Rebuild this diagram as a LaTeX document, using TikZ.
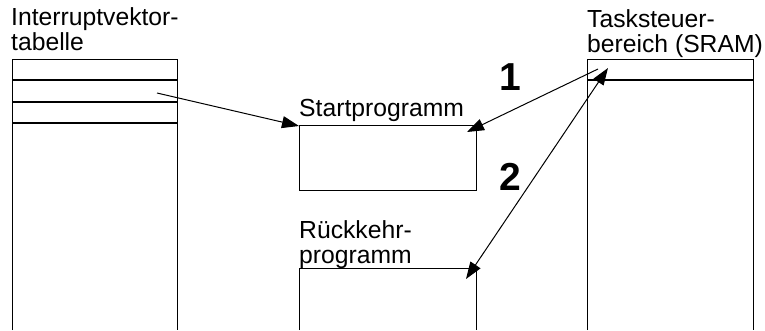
\documentclass[tikz,border=0pt]{standalone}
\usepackage{fontspec}
\setmainfont{Liberation Sans}
\usetikzlibrary{arrows.meta}
\begin{document}
\begin{tikzpicture}[x=1pt,y=-1pt,
  thin line/.style={line width=1pt},
  thick line/.style={line width=2pt},
  label text/.style={font=\fontsize{24.7}{25}\selectfont, anchor=base west, inner sep=0pt, align=left},
  number text/.style={font=\fontsize{39}{40}\selectfont\bfseries, anchor=base west, inner sep=0pt},
  conn/.style={line width=1pt, -{Triangle[length=17pt,width=12pt]}},
  conn2/.style={line width=1pt, {Triangle[length=17pt,width=12pt]}-{Triangle[length=17pt,width=12pt]}}]
\useasboundingbox (0,0) rectangle (765,330);

% interrupt vector table (open at the bottom)
\draw[thin line] (12,330) -- (12,59) -- (177,59) -- (177,330);
\foreach \yy in {80,102,123} \draw[thick line] (12,\yy) -- (177,\yy);
\node[label text] (ivt) at (11,50) {Interruptvektor-\\tabelle};

% start program
\draw[thin line] (299,125) rectangle (476,190);
\node[label text] (start) at (299,116) {Startprogramm};

% return program (open at the bottom)
\draw[thin line] (299,330) -- (299,268) -- (476,268) -- (476,330);
\node[label text] (ret) at (299,263) {Rückkehr-\\programm};

% task control area (open at the bottom)
\draw[thin line] (587,330) -- (587,59) -- (753,59) -- (753,330);
\draw[thick line] (587,80) -- (753,80);
\node[label text] (tcb) at (587,52) {Tasksteuer-\\bereich (SRAM)};

% step numbers
\node[number text] (n1) at (499,90) {1};
\node[number text] (n2) at (499,190) {2};

% connector end points
\coordinate (vec) at (157,93);
\coordinate (startin) at (299,126);
\coordinate (save) at (598,69);
\coordinate (startent) at (467,132);
\coordinate (restore) at (608,68);
\coordinate (retent) at (466,279);

\draw[conn] (vec) -- (startin);
\draw[conn] (save) -- (startent);
\draw[conn2] (retent) -- (restore);
\end{tikzpicture}
\end{document}
